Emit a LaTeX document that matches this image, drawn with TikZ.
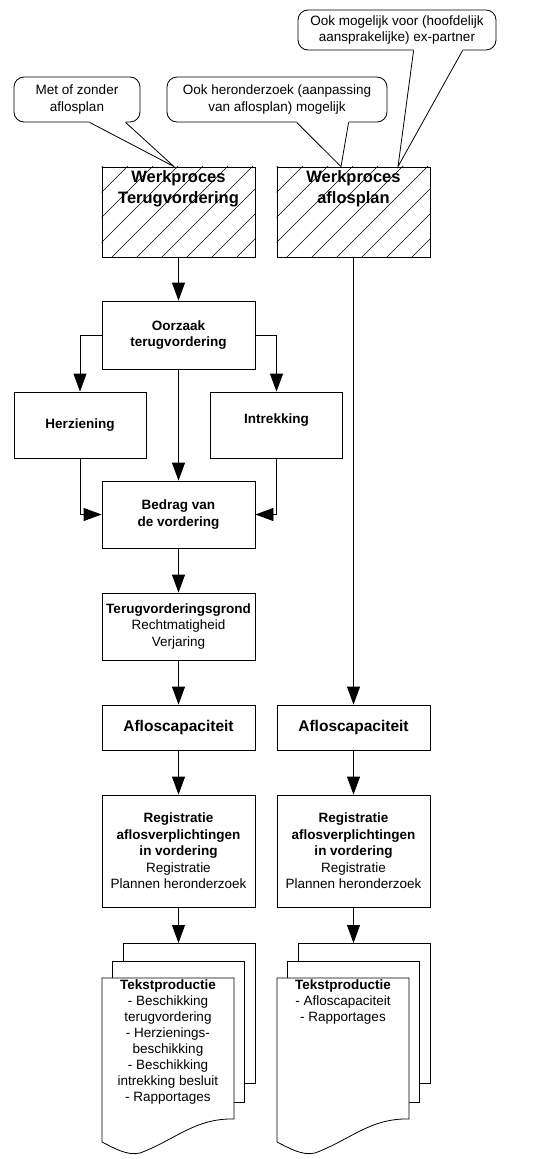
\documentclass[tikz,border=0pt]{standalone}
\usepackage{fontspec}
\setmainfont{Liberation Sans}
\usetikzlibrary{arrows.meta,calc}

\newcommand\pointer[4]{%
  \fill[white] ($(#1.south west)+(#2,-1.5)$) -- ($(#1.south west)+(#2,0)$) -- (#4)
    -- ($(#1.south west)+(#3,0)$) -- ($(#1.south west)+(#3,-1.5)$) -- cycle;
  \draw[tipline] ($(#1.south west)+(#2,0)$) -- (#4) -- ($(#1.south west)+(#3,0)$);}

\begin{document}
\begin{tikzpicture}[x=1pt,y=-1pt,font=\fontsize{13.5}{16.5}\selectfont,
  box/.style={draw,rectangle,fill=white,align=center,line width=0.8pt,inner sep=1.5pt,minimum width=153pt},
  note/.style={draw,rounded corners=10pt,fill=white,align=center,line width=0.8pt,minimum height=45pt},
  flow/.style={-{Triangle[length=18pt,width=13pt]},line width=0.8pt},
  tipline/.style={line width=0.8pt},
  page/.style={draw,fill=white,line width=0.8pt},
  bold/.style={font=\bfseries\fontsize{13.5}{16.5}\selectfont},
  big/.style={font=\bfseries\fontsize{15.5}{21}\selectfont},
  huge/.style={font=\bfseries\fontsize{16.5}{21}\selectfont}]
\useasboundingbox (0,0) rectangle (537,1159);

\foreach \n/\x in {wpL/178.5,wpR/353.5}{
  \node[box,minimum height=90pt] (\n) at (\x,212) {};
  \begin{scope}
    \clip (\n.south west) rectangle (\n.north east);
    \foreach \k in {0,...,10}
      \draw[line width=0.6pt] ($(\n.south west)+(\k*25-90,0)$) -- ++(100,-100);
  \end{scope}
}
\node[huge,align=center,anchor=north,inner sep=0pt] (wpLt) at ($(wpL.north)+(0,4)$) {Werkproces\\Terugvordering};
\node[huge,align=center,anchor=north,inner sep=0pt] (wpRt) at ($(wpR.north)+(0,4)$) {Werkproces\\aflosplan};

\node[note,minimum width=126pt] (cL) at (77,99.5) {Met of zonder\\aflosplan};
\node[note,minimum width=220pt] (cM) at (277,99.5) {Ook heronderzoek (aanpassing\\van aflosplan) mogelijk};
\node[note,minimum width=198pt,minimum height=40pt] (cR) at (397,30) {Ook mogelijk voor (hoofdelijk\\aansprakelijke) ex-partner};
\pointer{cL}{76}{112}{$(wpL.north)+(-4.5,0)$}
\pointer{cM}{130}{182}{$(wpR.north)+(-12.5,0)$}
\pointer{cR}{116}{165}{$(wpR.north)+(44.5,0)$}

\node[box,minimum height=68pt,bold] (oorz) at (178.5,335) {Oorzaak\\terugvordering};
\node[box,minimum width=132pt,minimum height=66pt,bold] (herz) at (80,425) {Herziening};
\node[box,minimum width=132pt,minimum height=66pt,bold,text depth=12pt] (intr) at (276.5,425) {Intrekking};
\node[box,minimum height=67pt,bold] (bedr) at (178.5,514.5) {Bedrag van\\de vordering};
\node[box,minimum height=67pt] (grond) at (178.5,626.5) {\textbf{Terugvorderingsgrond}\\Rechtmatigheid\\Verjaring};
\node[box,minimum height=45pt,big] (aflL) at (178.5,727.5) {Afloscapaciteit};
\node[box,minimum height=45pt,big] (aflR) at (353.5,727.5) {Afloscapaciteit};
\node[box,minimum height=112pt] (regL) at (178.5,851) {\textbf{Registratie}\\\textbf{aflosverplichtingen}\\\textbf{in vordering}\\Registratie\\Plannen heronderzoek};
\node[box,minimum height=112pt] (regR) at (353.5,851) {\textbf{Registratie}\\\textbf{aflosverplichtingen}\\\textbf{in vordering}\\Registratie\\Plannen heronderzoek};

\foreach \n/\x in {docL/102,docR/277}{
  \node[page,minimum width=132pt,minimum height=140pt,anchor=north west,inner sep=0pt] (\n) at (\x+21,943) {};
  \draw[page] (\x+10,961) rectangle (\x+142,1102);
  \draw[page] (\x,978) -- (\x+132,978) -- (\x+132,1119)
    .. controls (\x+93,1118) and (\x+73,1140) .. (\x+38,1153)
    .. controls (\x+25,1156) and (\x+12,1148) .. (\x,1142) -- cycle;
}
\node[align=center,anchor=north,inner sep=0pt,font=\fontsize{13.5}{16}\selectfont] (txtL) at (168,980) {\textbf{Tekstproductie}\\- Beschikking\\terugvordering\\- Herzienings-\\beschikking\\- Beschikking\\intrekking besluit\\- Rapportages};
\node[align=center,anchor=north,inner sep=0pt,font=\fontsize{13.5}{16}\selectfont] (txtR) at (343,980) {\textbf{Tekstproductie}\\- Afloscapaciteit\\- Rapportages};

\draw[flow] (wpL) -- (oorz);
\draw[flow] (oorz.west) -| (herz.north);
\draw[flow] (oorz.east) -| (intr.north);
\draw[flow] (oorz) -- (bedr);
\draw[flow] (herz.south) |- (bedr.west);
\draw[flow] (intr.south) |- (bedr.east);
\draw[flow] (bedr) -- (grond);
\draw[flow] (grond) -- (aflL);
\draw[flow] (aflL) -- (regL);
\draw[flow] (regL.south) -- (regL.south |- docL.north);
\draw[flow] (wpR) -- (aflR);
\draw[flow] (aflR) -- (regR);
\draw[flow] (regR.south) -- (regR.south |- docR.north);
\end{tikzpicture}
\end{document}
